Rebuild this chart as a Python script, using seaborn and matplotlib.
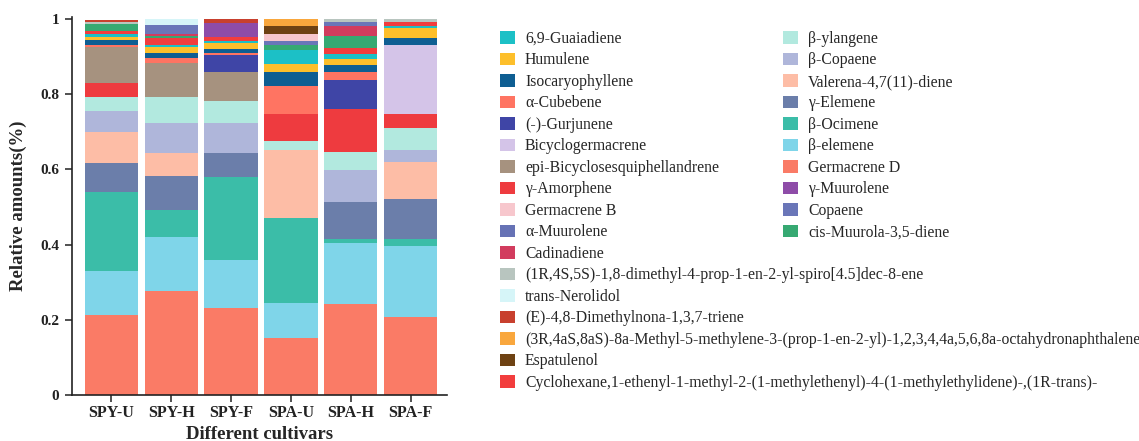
import matplotlib
matplotlib.use("Agg")
import matplotlib.pyplot as plt
import seaborn as sns
import numpy as np
import pandas as pd
from matplotlib.patches import Patch

# ---------------- data ----------------
cultivars = ["SPY-U", "SPY-H", "SPY-F", "SPA-U", "SPA-H", "SPA-F"]

# stacking order, bottom -> top
compounds = [
    "Germacrene D", "β-elemene", "β-Ocimene", "γ-Elemene", "Valerena-4,7(11)-diene",
    "β-Copaene", "β-ylangene", "γ-Amorphene", "epi-Bicyclosesquiphellandrene",
    "Bicyclogermacrene", "(-)-Gurjunene", "α-Cubebene", "Isocaryophyllene", "Humulene",
    "6,9-Guaiadiene",
    "Cyclohexane,1-ethenyl-1-methyl-2-(1-methylethenyl)-4-(1-methylethylidene)-,(1R-trans)-",
    "cis-Muurola-3,5-diene", "Cadinadiene", "γ-Muurolene", "Copaene", "α-Muurolene",
    "Germacrene B", "(1R,4S,5S)-1,8-dimethyl-4-prop-1-en-2-yl-spiro[4.5]dec-8-ene",
    "trans-Nerolidol", "(E)-4,8-Dimethylnona-1,3,7-triene", "Espatulenol",
    "(3R,4aS,8aS)-8a-Methyl-5-methylene-3-(prop-1-en-2-yl)-1,2,3,4,4a,5,6,8a-octahydronaphthalene",
]

colors = [
    "#FA7B66", "#7FD5E9", "#3BBDA8", "#6B7EAA", "#FDBDA6",
    "#AFB6DA", "#B2E9DF", "#EE3B3F", "#A6927F",
    "#D4C4E8", "#3F45A6", "#FF7462", "#0E5E92", "#FDBF2B",
    "#1CC0C6",
    "#F23D3D",
    "#36A972", "#D23C5E", "#8E4CA8", "#6A76B8", "#6672B5",
    "#F7C7CD", "#B8C5BF",
    "#D6F5F8", "#C8402E", "#6E4213",
    "#F9A73D",
]

spy_u = [0.213, 0.118, 0.210, 0.075, 0.082, 0.056, 0.039, 0.037, 0.096, 0.0, 0.0, 0.005,
         0.012, 0.010, 0.006, 0.009, 0.018, 0.0, 0.0, 0.0, 0.0, 0.0, 0.006, 0.0, 0.006, 0.0, 0.0]
spy_h = [0.277, 0.143, 0.071, 0.090, 0.062, 0.080, 0.069, 0.0, 0.090, 0.0, 0.0, 0.013,
         0.015, 0.016, 0.005, 0.018, 0.005, 0.007, 0.0, 0.024, 0.0, 0.0, 0.0, 0.015, 0.0, 0.0, 0.0]
spy_f = [0.231, 0.127, 0.222, 0.064, 0.0, 0.080, 0.057, 0.0, 0.077, 0.0, 0.047, 0.005,
         0.011, 0.014, 0.007, 0.009, 0.0, 0.0, 0.039, 0.0, 0.0, 0.0, 0.0, 0.0, 0.009, 0.0, 0.0]
spa_u = [0.152, 0.093, 0.225, 0.0, 0.182, 0.0, 0.022, 0.074, 0.0, 0.0, 0.0, 0.073,
         0.037, 0.023, 0.037, 0.0, 0.013, 0.0, 0.0, 0.011, 0.0, 0.018, 0.0, 0.0, 0.0, 0.021, 0.018]
spa_h = [0.242, 0.161, 0.011, 0.098, 0.0, 0.086, 0.049, 0.113, 0.0, 0.0, 0.078, 0.022,
         0.018, 0.015, 0.014, 0.015, 0.033, 0.027, 0.0, 0.009, 0.0, 0.0, 0.009, 0.0, 0.0, 0.0, 0.0]
spa_f = [0.208, 0.188, 0.020, 0.104, 0.100, 0.031, 0.058, 0.038, 0.0, 0.184, 0.0, 0.0,
         0.018, 0.027, 0.006, 0.011, 0.0, 0.0, 0.0, 0.0, 0.0, 0.0, 0.006, 0.0, 0.0, 0.0, 0.0]

legend_col1 = [
    "6,9-Guaiadiene", "Humulene", "Isocaryophyllene", "α-Cubebene", "(-)-Gurjunene",
    "Bicyclogermacrene", "epi-Bicyclosesquiphellandrene", "γ-Amorphene", "Germacrene B",
    "α-Muurolene", "Cadinadiene",
    "(1R,4S,5S)-1,8-dimethyl-4-prop-1-en-2-yl-spiro[4.5]dec-8-ene",
    "trans-Nerolidol", "(E)-4,8-Dimethylnona-1,3,7-triene",
    "(3R,4aS,8aS)-8a-Methyl-5-methylene-3-(prop-1-en-2-yl)-1,2,3,4,4a,5,6,8a-octahydronaphthalene",
    "Espatulenol",
    "Cyclohexane,1-ethenyl-1-methyl-2-(1-methylethenyl)-4-(1-methylethylidene)-,(1R-trans)-",
]
legend_col2 = [
    "β-ylangene", "β-Copaene", "Valerena-4,7(11)-diene", "γ-Elemene", "β-Ocimene",
    "β-elemene", "Germacrene D", "γ-Muurolene", "Copaene", "cis-Muurola-3,5-diene",
]

yticks = [0, 0.2, 0.4, 0.6, 0.8, 1.0]
ytick_labels = ["0", "0.2", "0.4", "0.6", "0.8", "1"]

# ---------------- plot ----------------
sns.set_theme(style="ticks")
plt.rcParams["font.family"] = ["Liberation Serif", "DejaVu Serif"]

W, H = 1139, 441
fig = plt.figure(figsize=(W / 100, H / 100), dpi=100)
ax = fig.add_axes([72 / W, (H - 395) / H, 375 / W, 378 / H])

values = np.array([spy_u, spy_h, spy_f, spa_u, spa_h, spa_f])
cum = values.cumsum(axis=1)
color_of = dict(zip(compounds, colors))

for i in range(len(compounds) - 1, -1, -1):
    df = pd.DataFrame({"cultivar": cultivars, "value": cum[:, i]})
    sns.barplot(data=df, x="cultivar", y="value", color=colors[i], saturation=1,
                width=0.89, linewidth=0, errorbar=None, ax=ax)

ax.set_xlim(-0.66, 5.61)
ax.set_ylim(0, 1.005)
ax.set_yticks(yticks)
ax.set_yticklabels(ytick_labels)
sns.despine(ax=ax)
for s in ["left", "bottom"]:
    ax.spines[s].set_color("#222222")
    ax.spines[s].set_linewidth(1.2)
ax.tick_params(axis="both", colors="#222222", length=5, width=1.1)
ax.tick_params(axis="x", labelsize=11.5, pad=2.5)
ax.tick_params(axis="y", labelsize=11, pad=4)
for lab in ax.get_xticklabels() + ax.get_yticklabels():
    lab.set_fontweight("bold")
ax.set_xlabel("Different cultivars", fontsize=13.5, fontweight="bold", labelpad=3)
ax.set_ylabel("Relative amounts(%)", fontsize=13.5, fontweight="bold", labelpad=10)

fs = 11.3
common = dict(loc="upper left", frameon=False, fontsize=fs, handlelength=0.95,
              handleheight=0.85, handletextpad=0.64, labelspacing=0.35,
              borderpad=0, borderaxespad=0)
h1 = [Patch(facecolor=color_of[n], edgecolor="none") for n in legend_col1]
h2 = [Patch(facecolor=color_of[n], edgecolor="none") for n in legend_col2]
fig.legend(h1, legend_col1, bbox_to_anchor=(500 / W, 1 - 31 / H), **common)
fig.legend(h2, legend_col2, bbox_to_anchor=(783 / W, 1 - 31 / H), **common)

fig.savefig("out.png", dpi=100)
